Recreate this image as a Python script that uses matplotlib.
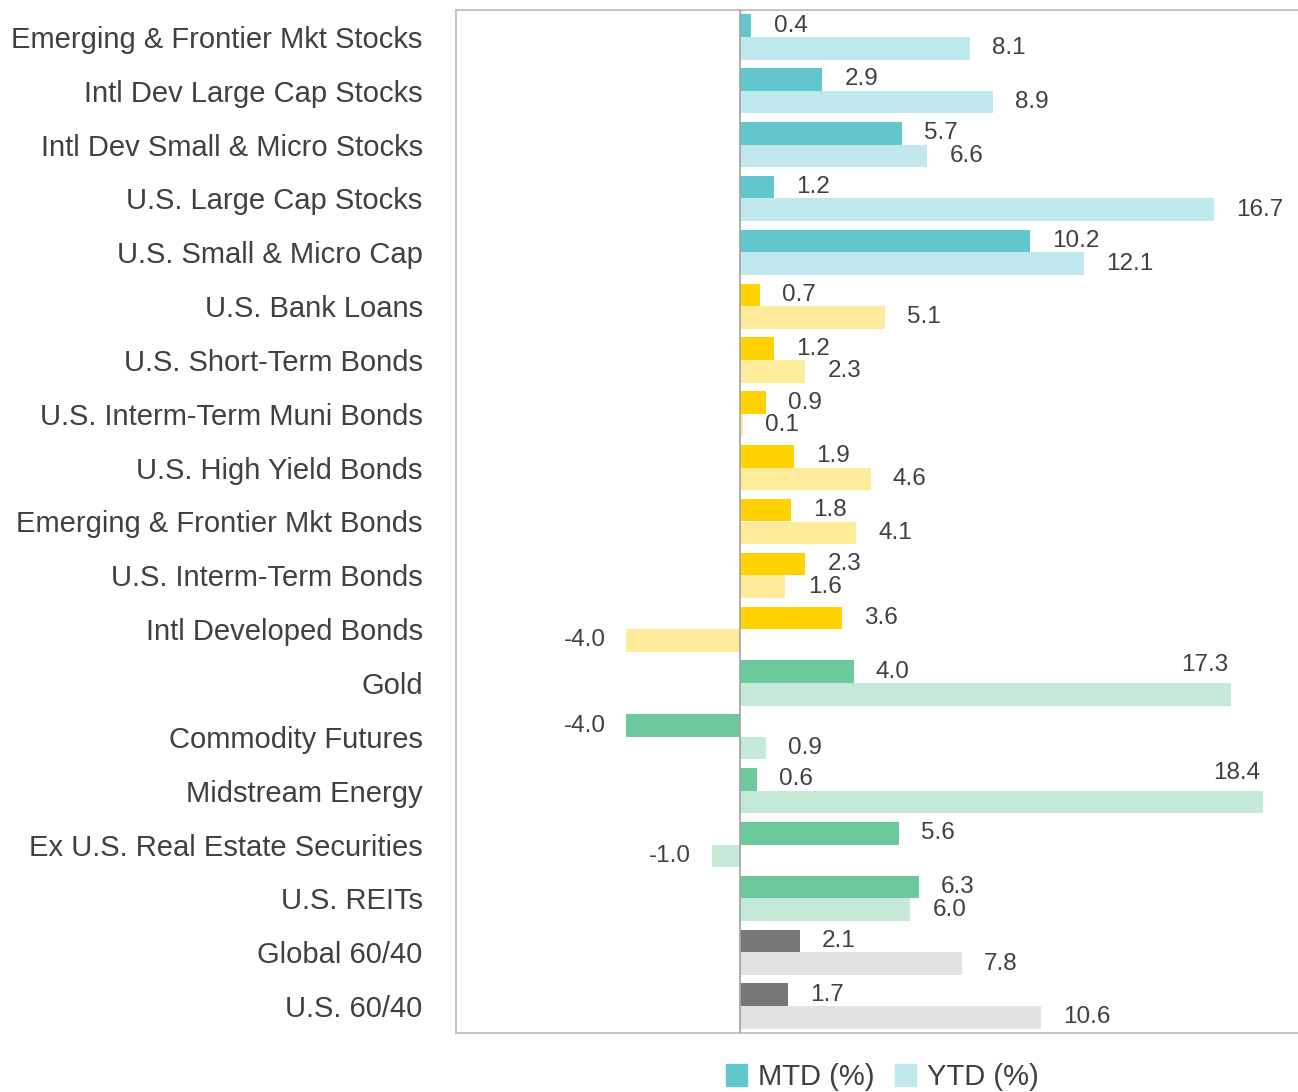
import matplotlib
matplotlib.use("Agg")
import matplotlib.pyplot as plt
from matplotlib import font_manager
from matplotlib.patches import Patch
import numpy as np

categories = [
    "Emerging & Frontier Mkt Stocks", "Intl Dev Large Cap Stocks", "Intl Dev Small & Micro Stocks",
    "U.S. Large Cap Stocks", "U.S. Small & Micro Cap", "U.S. Bank Loans", "U.S. Short-Term Bonds",
    "U.S. Interm-Term Muni Bonds", "U.S. High Yield Bonds", "Emerging & Frontier Mkt Bonds",
    "U.S. Interm-Term Bonds", "Intl Developed Bonds", "Gold", "Commodity Futures",
    "Midstream Energy", "Ex U.S. Real Estate Securities", "U.S. REITs", "Global 60/40", "U.S. 60/40",
]
mtd = [0.4, 2.9, 5.7, 1.2, 10.2, 0.7, 1.2, 0.9, 1.9, 1.8, 2.3, 3.6, 4.0, -4.0, 0.6, 5.6, 6.3, 2.1, 1.7]
ytd = [8.1, 8.9, 6.6, 16.7, 12.1, 5.1, 2.3, 0.1, 4.6, 4.1, 1.6, -4.0, 17.3, 0.9, 18.4, -1.0, 6.0, 7.8, 10.6]
groups = ["eq"] * 5 + ["fi"] * 7 + ["ra"] * 5 + ["bal"] * 2

mtd_colors = {"eq": "#62C6CE", "fi": "#FFD200", "ra": "#6CC99B", "bal": "#777777"}
ytd_colors = {"eq": "#BFE9EC", "fi": "#FFEB99", "ra": "#C4EAD7", "bal": "#E2E2E2"}

avail = {f.name for f in font_manager.fontManager.ttflist}
fam = [f for f in ["Liberation Sans", "DejaVu Sans"] if f in avail]
plt.rcParams["font.family"] = fam

W, H = 1298, 1092
fig = plt.figure(figsize=(W / 100, H / 100), dpi=100)
left, right, top, bottom = 456, 1308, 10, 1033
ax = fig.add_axes([left / W, 1 - bottom / H, (right - left) / W, (bottom - top) / H])

y = np.arange(len(categories))
bh = 0.42
ax.barh(y - bh / 2, mtd, height=bh, color=[mtd_colors[g] for g in groups], zorder=2)
ax.barh(y + bh / 2, ytd, height=bh, color=[ytd_colors[g] for g in groups], zorder=2)

ax.set_xlim(-10, 20)
ax.set_ylim(len(categories) - 0.5, -0.5)
ax.axvline(0, color="#A6A6A6", lw=1.3, zorder=3)

tc = "#404040"
fs = 17.5
for i in range(len(categories)):
    for v, yy in ((mtd[i], y[i] - bh / 2), (ytd[i], y[i] + bh / 2)):
        if v > 17:
            ax.annotate(f"{v:.1f}", (v, yy), xytext=(-2, 21), textcoords="offset points",
                        ha="right", va="center", fontsize=fs, color=tc)
        elif v >= 0:
            ax.annotate(f"{v:.1f}", (v, yy), xytext=(16, 0), textcoords="offset points",
                        ha="left", va="center", fontsize=fs, color=tc)
        else:
            ax.annotate(f"{v:.1f}", (v, yy), xytext=(-15, 0), textcoords="offset points",
                        ha="right", va="center", fontsize=fs, color=tc)

ax.set_yticks(y)
ax.set_yticklabels(categories, fontsize=21, color=tc)
ax.tick_params(axis="y", length=0, pad=24)
ax.set_xticks([])
for s in ax.spines.values():
    s.set_color("#BFBFBF")
    s.set_linewidth(1.3)

handles = [Patch(color=mtd_colors["eq"], label="MTD (%)"), Patch(color=ytd_colors["eq"], label="YTD (%)")]
fig.legend(handles=handles, loc="center", bbox_to_anchor=(882 / W, 1 - 1077 / H), ncol=2,
           frameon=False, fontsize=21, handlelength=0.75, handleheight=0.75, handletextpad=0.35,
           columnspacing=0.7, labelcolor=tc, borderpad=0.2)

fig.savefig("out.png", dpi=100)
